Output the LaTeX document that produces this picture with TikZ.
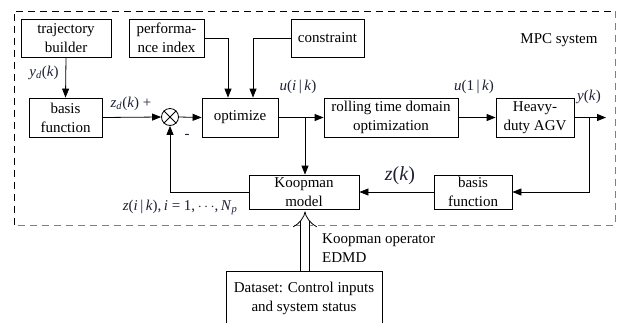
\documentclass[tikz,border=0pt]{standalone}
\usepackage{fontspec}
\setmainfont{Liberation Serif}
\usetikzlibrary{arrows.meta}
\definecolor{lbl}{RGB}{30,32,52}
\newcommand{\mi}[1]{\textit{#1}}
\begin{document}
\begin{tikzpicture}[x=1pt,y=-1pt,
  font=\fontsize{15}{19}\selectfont,
  blk/.style={draw,line width=0.8pt,inner sep=0pt,align=center,
    minimum width=#1},
  blk/.default=80pt,
  wire/.style={line width=0.8pt},
  arr/.style={wire,-{Triangle[length=9pt,width=7pt]}},
  lab/.style={text=lbl,inner sep=0pt}]
\useasboundingbox (0,0) rectangle (617,322);

% MPC system frame
\draw[line width=0.8pt,dash pattern=on 7pt off 5pt] (14,225) -- (14,11) -- (615,11);
\draw[line width=0.8pt,gray,dash pattern=on 7pt off 5pt] (615,11) -- (615,225) -- (14,225);
\node[inner sep=0pt] (mpc) at (559,40) {MPC system};

% blocks
\node[blk=90pt,minimum height=38pt] (traj) at (66,38) {trajectory\\builder};
\node[blk=75pt,minimum height=38pt] (perf) at (166.5,38) {performa-\\nce index};
\node[blk=73pt,minimum height=38pt] (cons) at (327.5,38) {constraint};
\node[blk=73pt,minimum height=39pt] (bas1) at (65.5,117.5) {basis\\function};
\node[draw,circle,line width=0.8pt,minimum size=17pt,inner sep=0pt] (sum) at (170,117) {};
\draw[wire] (sum.north west) -- (sum.south east) (sum.north east) -- (sum.south west);
\node[blk=76pt,minimum height=39pt] (opt) at (240,117.5) {optimize};
\node[blk=134pt,minimum height=39pt] (roll) at (391,117.5) {rolling time domain\\optimization};
\node[blk=78pt,minimum height=39pt] (agv) at (535,117.5) {Heavy-\\duty AGV};
\node[blk=78pt,minimum height=34pt] (bas2) at (473,192) {basis\\function};
\node[blk=110pt,minimum height=34pt] (koop) at (304,192) {Koopman\\model};
\node[blk=156pt,minimum height=54pt] (data) at (304,298) {Dataset: Control inputs\\and system status};

% helper points
\coordinate (pbend) at (228,38);
\coordinate (cbend) at (253,38);
\coordinate (split) at (305,117.5);
\coordinate (out) at (606,117.5);
\coordinate (ysplit) at (589,117.5);
\coordinate (ybend) at (589,192);
\coordinate (fbend) at (170,192);

% connectors
\draw[arr] (traj.south) -- (bas1.north);
\draw[arr] (bas1.east) -- (sum.west);
\draw[arr] (sum.east) -- (opt.west);
\draw[arr] (perf.east) -- (pbend) -- (pbend |- opt.north);
\draw[arr] (cons.west) -- (cbend) -- (cbend |- opt.north);
\draw[arr] (opt.east) -- (roll.west);
\draw[arr] (split) -- (split |- koop.north);
\draw[arr] (roll.east) -- (agv.west);
\draw[arr] (agv.east) -- (out);
\draw[arr] (ysplit) -- (ybend) -- (bas2.east);
\draw[arr] (bas2.west) -- (koop.east);
\draw[arr] (koop.west) -- (fbend) -- (sum.south);
\draw[line width=0.8pt,double distance=8pt,-{Implies[length=5pt]}]
  (data.north -| split) -- ([yshift=-2pt]koop.south -| split);

% labels
\node[lab] (yd) at (44,73) {\mi{y}\textsubscript{\mi{d}}(\mi{k})};
\node[lab] (zd) at (131,104) {\mi{z}\textsubscript{\mi{d}}(\mi{k}) +};
\node[lab] (minus) at (187,136) {-};
\node[lab] (uik) at (298,87) {\mi{u}(\mi{i}\,|\,\mi{k})};
\node[lab] (u1k) at (474,87) {\mi{u}(1\,|\,\mi{k})};
\node[lab] (yk) at (589,97) {\mi{y}(\mi{k})};
\node[lab,font=\fontsize{20}{24}\selectfont] (zk) at (400,176) {\mi{z}(\mi{k})};
\node[lab] (zik) at (180,207) {\mi{z}(\mi{i}\,|\,\mi{k}),\,\mi{i} = 1,\,$\cdots$,\,\mi{N}\textsubscript{\mi{p}}};
\node[inner sep=0pt,align=left,anchor=west] (edmd) at (322,248.5) {Koopman operator\\EDMD};
\end{tikzpicture}
\end{document}
